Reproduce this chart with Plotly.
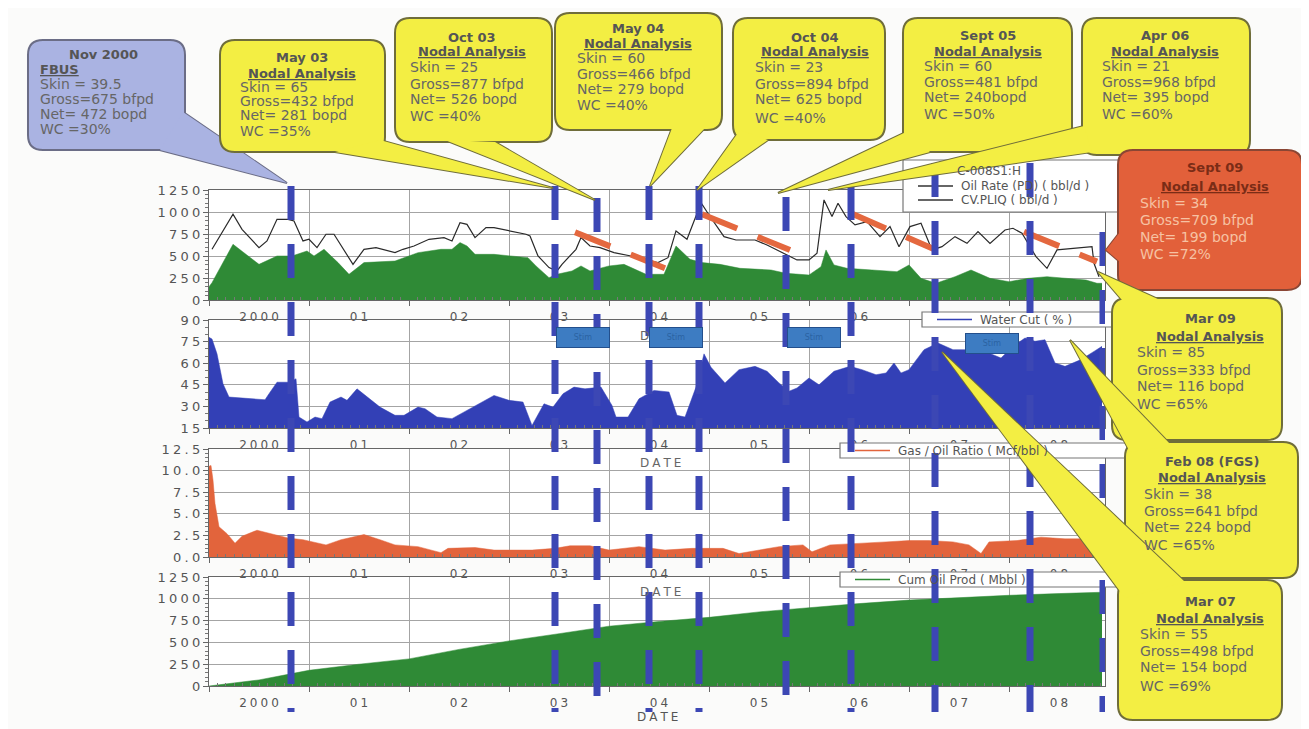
import plotly.graph_objects as go

# ---------------- data ----------------
liq_x = [2000.03,2000.24,2000.33,2000.50,2000.58,2000.68,2000.79,2000.85,2000.94,2001.0,2001.08,2001.17,2001.25,2001.44,2001.55,2001.67,2001.86,2001.94,2002.05,2002.20,2002.35,2002.43,2002.51,2002.58,2002.66,2002.77,2002.85,2003.02,2003.17,2003.21,2003.29,2003.40,2003.48,2003.53,2003.67,2003.72,2003.81,2003.91,2004.05,2004.22,2004.34,2004.49,2004.59,2004.67,2004.78,2004.87,2004.93,2005.0,2005.15,2005.27,2005.46,2005.58,2005.75,2005.88,2006.0,2006.08,2006.15,2006.23,2006.29,2006.37,2006.46,2006.58,2006.71,2006.81,2006.90,2007.01,2007.12,2007.23,2007.33,2007.46,2007.58,2007.69,2007.81,2007.96,2008.04,2008.13,2008.27,2008.38,2008.48,2008.62,2008.77,2008.83,2008.85,2008.9]
liq_y = [576,974,803,595,671,917,917,898,671,690,595,747,747,405,576,595,538,576,614,690,709,671,879,860,709,822,822,785,747,728,500,368,330,405,576,709,614,595,538,500,462,425,481,785,690,955,1088,966,720,682,682,625,531,455,455,531,1137,948,1099,948,853,891,720,834,606,834,872,569,606,720,644,777,644,796,815,758,493,360,569,587,606,606,417,265]

oil_x = [2000.0,2000.03,2000.24,2000.33,2000.50,2000.68,2000.83,2000.98,2001.05,2001.15,2001.29,2001.40,2001.55,2001.86,2002.09,2002.32,2002.43,2002.51,2002.58,2002.66,2002.85,2003.19,2003.27,2003.40,2003.48,2003.63,2003.72,2003.81,2004.0,2004.15,2004.26,2004.37,2004.55,2004.67,2004.81,2004.93,2005.11,2005.31,2005.62,2005.77,2006.0,2006.12,2006.17,2006.25,2006.38,2006.65,2006.88,2007.0,2007.12,2007.27,2007.46,2007.62,2007.81,2008.0,2008.19,2008.38,2008.58,2008.77,2008.88,2008.93]
oil_y = [150,197,633,557,405,500,500,557,500,576,425,292,425,443,538,576,576,652,614,519,519,481,387,254,292,330,387,330,387,405,349,292,292,614,462,425,405,360,341,303,284,379,569,398,360,341,322,398,246,190,265,341,246,208,246,265,246,227,190,190]

wc_x = [2000.0,2000.03,2000.08,2000.14,2000.20,2000.56,2000.60,2000.68,2000.81,2000.87,2000.90,2000.98,2001.06,2001.13,2001.21,2001.32,2001.38,2001.48,2001.71,2001.86,2001.95,2002.09,2002.16,2002.28,2002.43,2002.58,2002.74,2002.85,2003.0,2003.14,2003.23,2003.35,2003.44,2003.54,2003.65,2003.76,2003.92,2004.03,2004.07,2004.19,2004.30,2004.45,2004.60,2004.68,2004.76,2004.87,2004.95,2005.02,2005.16,2005.30,2005.46,2005.58,2005.70,2005.80,2005.88,2006.0,2006.1,2006.25,2006.41,2006.53,2006.67,2006.77,2006.85,2006.92,2007.0,2007.15,2007.29,2007.44,2007.60,2007.76,2007.92,2008.04,2008.16,2008.26,2008.36,2008.46,2008.56,2008.72,2008.85,2008.93]
wc_y = [78,76.8,66.5,45.7,36.5,34.6,38.8,46.8,46.8,49.2,22.6,19.2,22.6,21.5,33,36.5,34.2,42.2,29.5,23.8,23.8,29.5,28.4,22.6,21.5,27.2,33,37.6,34.2,33,16.8,31.8,29.5,38.8,43.4,42.2,43.4,30.7,22.6,22.6,35.3,41.1,40,23.8,22.6,43.4,66.5,57.2,46.3,55.5,57.8,54.4,46.3,40.5,42.8,49.7,45,54.4,57.8,55.5,52,53.2,60.1,53.2,55.5,69.4,74,69.4,69.4,68.2,63.6,71.7,77.5,75.2,76.3,60.1,57.8,62.5,68.2,71.7]

gor_x = [2000.0,2000.02,2000.04,2000.06,2000.10,2000.18,2000.26,2000.33,2000.48,2000.64,2000.79,2000.94,2001.17,2001.32,2001.55,2001.71,2001.86,2002.09,2002.32,2002.39,2002.66,2002.85,2003.23,2003.46,2003.61,2003.81,2004.0,2004.30,2004.56,2004.83,2005.14,2005.3,2005.5,2005.7,2005.94,2006.03,2006.21,2006.5,2006.77,2007.0,2007.2,2007.44,2007.6,2007.72,2007.8,2008.08,2008.32,2008.56,2008.75,2008.93]
gor_y = [10.5,10.6,8.9,6.2,3.5,2.7,1.6,2.4,3.1,2.6,2.2,2.0,1.4,2.0,2.6,2.0,1.4,1.2,0.5,1.0,1.1,0.8,0.8,1.0,1.3,1.3,0.8,1.2,0.8,1.0,1.0,0.4,0.8,1.2,1.4,0.6,1.4,1.55,1.75,1.9,1.9,1.75,1.4,0.4,1.75,1.9,2.3,2.1,2.1,2.1]

cum_x = [2000.0,2000.5,2000.83,2001.0,2001.5,2002.0,2002.5,2003.0,2003.5,2004.0,2004.5,2005.0,2005.5,2006.0,2006.5,2007.0,2007.5,2008.0,2008.5,2008.93]
cum_y = [0,70,142,180,250,311,420,517,600,686,740,787,850,900,945,985,1015,1040,1060,1075]

decl_x0 = [2003.66, 2004.93, 2006.42, 2008.15]
decl_y0 = [770, 975, 985, 776]
decl_x1 = [2004.56, 2005.81, 2007.27, 2008.88]
decl_y1 = [360, 568, 568, 436]

event_years = [2000.82, 2003.46, 2003.88, 2004.40, 2004.90, 2005.77, 2006.42, 2007.26, 2008.21, 2008.94]

stim_x = [2003.735, 2004.665, 2006.045, 2007.825]
stim_y = [77.8, 77.8, 77.8, 74.0]

year_ticks = [2000, 2001, 2002, 2003, 2004, 2005, 2006, 2007, 2008]
year_labels = ["2000", "01", "02", "03", "04", "05", "06", "07", "08"]
rate_ticks = [0, 250, 500, 750, 1000, 1250]
wc_ticks = [15, 30, 45, 60, 75, 90]
gor_ticks = [0, 2.5, 5.0, 7.5, 10.0, 12.5]
gor_labels = ["0.0", "2.5", "5.0", "7.5", "10.0", "12.5"]

# ---------------- layout helpers ----------------
OFF = 8                       # page body margin of the browser
W, H = 1309 - OFF, 729 - OFF  # figure size
PL, PR, PT, PB = 209, 1105, 190, 686   # target plot-area edges in window pixels
ML = PL - OFF
MT = PT - OFF
MR = W - (PR - OFF)
MB = H - (PB - OFF)
PW = PR - PL
PH = PB - PT


def X(px):
    return (px - PL) / PW


def Y(py):
    return (PB - py) / PH


def sp(s):
    return "\u2005".join(s)


GREEN = "#2f8a36"
BLUE = "#3340b6"
RED = "#e2643c"
EVENT = "#3c47b4"
FONT = "DejaVu Sans"

fig = go.Figure()

fig.add_trace(go.Scatter(x=oil_x, y=oil_y, fill="tozeroy", fillcolor=GREEN,
                         line=dict(color=GREEN, width=0.5), mode="lines",
                         xaxis="x", yaxis="y", showlegend=False, hoverinfo="skip"))
fig.add_trace(go.Scatter(x=liq_x, y=liq_y, mode="lines", line=dict(color="#2a2a2a", width=1.2),
                         xaxis="x", yaxis="y", showlegend=False))
for a, b, c, d in zip(decl_x0, decl_y0, decl_x1, decl_y1):
    fig.add_trace(go.Scatter(x=[a, c], y=[b, d], mode="lines",
                             line=dict(color="#e4683f", width=6, dash="38px,22px"),
                             xaxis="x", yaxis="y", showlegend=False))
fig.add_trace(go.Scatter(x=wc_x, y=wc_y, fill="tozeroy", fillcolor=BLUE,
                         line=dict(color=BLUE, width=0.5), mode="lines",
                         xaxis="x2", yaxis="y2", showlegend=False))
fig.add_trace(go.Scatter(x=gor_x, y=gor_y, fill="tozeroy", fillcolor=RED,
                         line=dict(color=RED, width=0.5), mode="lines",
                         xaxis="x3", yaxis="y3", showlegend=False))
fig.add_trace(go.Scatter(x=cum_x, y=cum_y, fill="tozeroy", fillcolor=GREEN,
                         line=dict(color=GREEN, width=0.5), mode="lines",
                         xaxis="x4", yaxis="y4", showlegend=False))

month_minor = [2000 + m / 12 for m in range(0, 108) if m % 12 != 0]

domains = [[Y(300), Y(190)], [Y(428), Y(320)], [Y(557), Y(449)], [Y(686), Y(577)]]
yticks = [(rate_ticks, [str(v) for v in rate_ticks], [0, 1250], 50),
          (wc_ticks, [str(v) for v in wc_ticks], [15, 90], 5),
          (gor_ticks, gor_labels, [0, 12.5], 0.5),
          (rate_ticks, [str(v) for v in rate_ticks], [0, 1250], 50)]

axfont = dict(family=FONT, size=12, color="#555")
layout = {}
for i in range(4):
    s = "" if i == 0 else str(i + 1)
    tv, tt, rng, mstep = yticks[i]
    minor_vals = []
    k = 0
    v = rng[0]
    while v <= rng[1] + 1e-9:
        if all(abs(v - t) > 1e-6 for t in tv):
            minor_vals.append(v)
        k += 1
        v = rng[0] + k * mstep
    layout["xaxis" + s] = dict(
        domain=[0, 1], anchor="y" + s, range=[2000.0, 2008.96],
        tickmode="array", tickvals=year_ticks, ticktext=[sp(t) for t in year_labels],
        ticklabelshift=50, ticks="outside", ticklen=5, tickcolor="#666",
        showgrid=True, gridcolor="#a4a4a4", gridwidth=1, zeroline=False,
        showline=True, linecolor="#666", linewidth=1.3, mirror=True,
        tickfont=axfont,
        minor=dict(tickmode="array", tickvals=month_minor, ticks="inside", ticklen=3,
                   tickcolor="#777", showgrid=False),
    )
    if i > 0:
        layout["xaxis" + s]["matches"] = "x"
    layout["yaxis" + s] = dict(
        domain=domains[i], anchor="x" + s, range=rng,
        tickmode="array", tickvals=tv, ticktext=[sp(t) for t in tt],
        ticks="outside", ticklen=5, tickcolor="#666",
        showgrid=True, gridcolor="#a4a4a4", gridwidth=1, zeroline=False,
        showline=True, linecolor="#666", linewidth=1.3, mirror=True,
        tickfont=dict(family=FONT, size=13, color="#555"),
        minor=dict(tickmode="array", tickvals=minor_vals, ticks="outside", ticklen=3,
                   tickcolor="#777", showgrid=False),
    )

shapes = []
annotations = []


def txt(px, py, s, size=13, color="#666", anchor="left", family=FONT):
    annotations.append(dict(x=X(px), y=Y(py), xref="paper", yref="paper", text=s,
                            showarrow=False, xanchor=anchor, yanchor="middle",
                            font=dict(family=family, size=size, color=color)))


def P(px, py):
    return f"{X(px):.5f},{Y(py):.5f}"


def rrect(x0, y0, x1, y1, r):
    return (f"M{P(x0 + r, y0)} L{P(x1 - r, y0)} Q{P(x1, y0)} {P(x1, y0 + r)} "
            f"L{P(x1, y1 - r)} Q{P(x1, y1)} {P(x1 - r, y1)} L{P(x0 + r, y1)} "
            f"Q{P(x0, y1)} {P(x0, y1 - r)} L{P(x0, y0 + r)} Q{P(x0, y0)} {P(x0 + r, y0)} Z")


def pshape(path, fill, line, lw):
    shapes.append(dict(type="path", xref="paper", yref="paper", path=path,
                       fillcolor=fill, line=dict(color=line, width=lw), layer="above"))


# legend boxes
legends = [
    ((903, 160, 1138, 212), [(171, None, "C-008S1:H"), (186, "#333", "Oil Rate (PD) ( bbl/d )"),
                             (200, "#333", "CV.PLIQ ( bbl/d )")]),
    ((922, 312, 1135, 327), [(319.5, "#3340b6", "Water Cut ( % )")]),
    ((840, 443, 1135, 458), [(450.5, "#e2643c", "Gas / Oil Ratio ( Mcf/bbl )")]),
    ((840, 572, 1135, 587), [(579.5, "#2f8a36", "Cum Oil Prod ( Mbbl )")]),
]
for (x0, y0, x1, y1), rows in legends:
    shapes.append(dict(type="rect", xref="paper", yref="paper", x0=X(x0), x1=X(x1), y0=Y(y1), y1=Y(y0),
                       fillcolor="white", line=dict(color="#777", width=1.2), layer="above"))
    for yy, col, label in rows:
        if col is None:
            txt(x0 + 52, yy, label, size=12, color="#555")
        else:
            shapes.append(dict(type="line", xref="paper", yref="paper", x0=X(x0 + 15), x1=X(x0 + 50),
                               y0=Y(yy), y1=Y(yy), line=dict(color=col, width=1.5), layer="above"))
            txt(x0 + 56, yy, label, size=12, color="#555")

# DATE titles (partly hidden behind later items)
for py in [336, 463, 592]:
    txt(660, py, sp("DATE"), size=12, color="#666", anchor="center")
txt(657, 717, sp("DATE"), size=12, color="#555", anchor="center")

# stimulation boxes in water-cut panel
for sx, sy in zip(stim_x, stim_y):
    annotations.append(dict(x=sx, y=sy, xref="x2", yref="y2", text="Stim", showarrow=False,
                            width=50, height=17, bgcolor="#3d7cc2", bordercolor="#234f8c",
                            borderwidth=1, font=dict(family=FONT, size=8, color="#2b63a3")))

# event dashed lines
event_top = [186, 186, 198, 186, 186, 197, 186, 163, 163, 232]
for ex, top in zip(event_years, event_top):
    shapes.append(dict(type="line", xref="x", yref="paper", x0=ex, x1=ex, y0=Y(top), y1=Y(712),
                       line=dict(color=EVENT, width=7, dash="34px,24px"), layer="above"))

# callouts
YEL = "#f3ee43"
YLINE = "#6f6d3a"
callouts = [
    dict(box=(28, 40, 185, 150), w=((183, 112), (160, 150), (287, 183)), fill="#aab3e2", line="#6b6d86",
         title="Nov 2000", sub="FBUS", subleft=True,
         body=["Skin = 39.5", "Gross=675 bfpd", "Net= 472 bopd", "WC =30%"],
         cx=103, lx=38, ys=[54, 69, 84, 99, 114, 129], tc="#555", bc="#666"),
    dict(box=(220, 40, 385, 152), w=((335, 152), (380, 140), (553, 188)), fill=YEL, line=YLINE,
         title="May 03", sub="Nodal Analysis",
         body=["Skin = 65", "Gross=432 bfpd", "Net= 281 bopd", "WC =35%"],
         cx=302, lx=238, ys=[57, 73, 87, 101, 115, 131], tc="#555", bc="#666"),
    dict(box=(395, 18, 552, 142), w=((445, 140), (495, 142), (595, 200)), fill=YEL, line=YLINE,
         title="Oct 03", sub="Nodal Analysis",
         body=["Skin = 25", "Gross=877 bfpd", "Net= 526 bopd", "WC =40%"],
         cx=472, lx=408, ys=[37, 52, 67, 84, 99, 116], tc="#555", bc="#666"),
    dict(box=(555, 13, 722, 130), w=((672, 128), (705, 128), (650, 186)), fill=YEL, line=YLINE,
         title="May 04", sub="Nodal Analysis",
         body=["Skin = 60", "Gross=466 bfpd", "Net= 279 bopd", "WC =40%"],
         cx=638, lx=575, ys=[29, 44, 58, 74, 89, 105], tc="#555", bc="#666"),
    dict(box=(733, 18, 885, 140), w=((740, 130), (768, 140), (697, 190)), fill=YEL, line=YLINE,
         title="Oct 04", sub="Nodal Analysis",
         body=["Skin = 23", "Gross=894 bfpd", "Net= 625 bopd", "WC =40%"],
         cx=815, lx=753, ys=[37, 52, 67, 84, 99, 118], tc="#555", bc="#666"),
    dict(box=(903, 18, 1072, 152), w=((906, 132), (930, 152), (778, 193)), fill=YEL, line=YLINE,
         title="Sept 05", sub="Nodal Analysis",
         body=["Skin = 60", "Gross=481 bfpd", "Net= 240bopd", "WC =50%"],
         cx=988, lx=922, ys=[35, 52, 66, 82, 97, 114], tc="#555", bc="#666"),
    dict(box=(1082, 18, 1250, 155), w=((1084, 126), (1092, 152), (828, 190)), fill=YEL, line=YLINE,
         title="Apr 06", sub="Nodal Analysis",
         body=["Skin = 21", "Gross=968 bfpd", "Net= 395 bopd", "WC =60%"],
         cx=1165, lx=1100, ys=[35, 52, 66, 82, 97, 114], tc="#555", bc="#666"),
    dict(box=(1118, 150, 1302, 290), w=((1120, 232), (1120, 262), (1106, 250)), fill="#e2603a", line="#8a4634",
         title="Sept 09", sub="Nodal Analysis",
         body=["Skin = 34", "Gross=709 bfpd", "Net= 199 bopd", "WC =72%"],
         cx=1215, lx=1138, ys=[168, 186, 203, 220, 237, 254], tc="#7a2c16", bc="#f6c2a3"),
    dict(box=(1112, 298, 1282, 440), w=((1122, 300), (1160, 300), (1098, 272)), fill=YEL, line=YLINE,
         title="Mar 09", sub="Nodal Analysis",
         body=["Skin = 85", "Gross=333 bfpd", "Net= 116 bopd", "WC =65%"],
         cx=1210, lx=1135, ys=[318, 336, 352, 370, 386, 404], tc="#555", bc="#666"),
    dict(box=(1125, 442, 1298, 578), w=((1130, 452), (1172, 446), (1070, 340)), fill=YEL, line=YLINE,
         title="Feb 08 (FGS)", sub="Nodal Analysis",
         body=["Skin = 38", "Gross=641 bfpd", "Net= 224 bopd", "WC =65%"],
         cx=1212, lx=1142, ys=[461, 477, 494, 511, 527, 545], tc="#555", bc="#666"),
    dict(box=(1118, 580, 1282, 720), w=((1125, 598), (1185, 582), (942, 352)), fill=YEL, line=YLINE,
         title="Mar 07", sub="Nodal Analysis",
         body=["Skin = 55", "Gross=498 bfpd", "Net= 154 bopd", "WC =69%"],
         cx=1210, lx=1138, ys=[601, 618, 634, 651, 667, 686], tc="#555", bc="#666"),
]

for c in callouts:
    (b1, b2, tip) = c["w"]
    tri = f"M{P(*b1)} L{P(*b2)} L{P(*tip)} Z"
    pshape(tri, c["fill"], c["line"], 2)
    pshape(rrect(*c["box"], 15), c["fill"], c["line"], 2)
    pshape(tri, c["fill"], c["fill"], 0)

for c in callouts:
    ys = c["ys"]
    txt(c["cx"], ys[0], f"<b>{c['title']}</b>", size=13, color=c["tc"], anchor="center")
    if c.get("subleft"):
        txt(c["lx"], ys[1], f"<b><u>{c['sub']}</u></b>", size=13, color=c["tc"], anchor="left")
    else:
        txt(c["cx"], ys[1], f"<b><u>{c['sub']}</u></b>", size=13, color=c["tc"], anchor="center")
    for yy, line in zip(ys[2:], c["body"]):
        txt(c["lx"], yy, line, size=14, color=c["bc"], anchor="left")

fig.update_layout(
    width=W, height=H, autosize=False,
    margin=dict(l=ML, r=MR, t=MT, b=MB, pad=0),
    paper_bgcolor="#fbfbfa", plot_bgcolor="white",
    showlegend=False, shapes=shapes, annotations=annotations,
    **layout,
)

fig.write_html("out.html")
